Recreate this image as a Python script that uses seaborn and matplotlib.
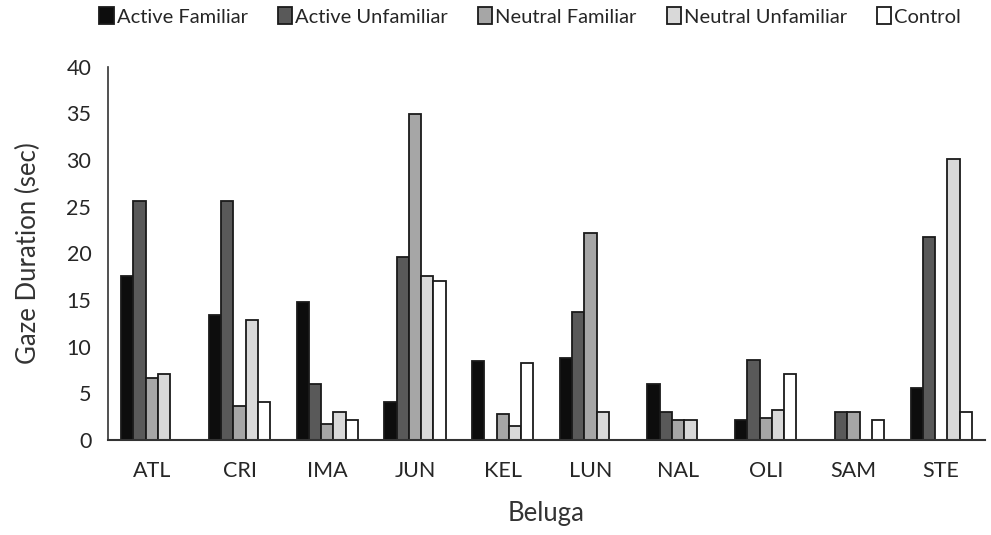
import matplotlib
matplotlib.use('Agg')
import matplotlib.pyplot as plt
import pandas as pd
import seaborn as sns

belugas = ['ATL', 'CRI', 'IMA', 'JUN', 'KEL', 'LUN', 'NAL', 'OLI', 'SAM', 'STE']
conditions = ['Active Familiar', 'Active Unfamiliar', 'Neutral Familiar',
              'Neutral Unfamiliar', 'Control']

active_familiar = [17.6, 13.4, 14.8, 4.1, 8.4, 8.8, 6.0, 2.1, 0, 5.6]
active_unfamiliar = [25.6, 25.6, 6.0, 19.6, 0, 13.7, 3.0, 8.6, 3.0, 21.7]
neutral_familiar = [6.6, 3.6, 1.7, 34.9, 2.8, 22.2, 2.1, 2.3, 3.0, 0]
neutral_unfamiliar = [7.1, 12.9, 3.0, 17.6, 1.5, 3.0, 2.1, 3.2, 0, 30.1]
control = [0, 4.1, 2.1, 17.0, 8.2, 0, 0, 7.1, 2.1, 3.0]

colors = ['#0d0d0d', '#595959', '#a6a6a6', '#d9d9d9', '#ffffff']


def main():
    sns.set_style('white')
    plt.rcParams['font.family'] = ['Lato', 'DejaVu Sans']

    series = [active_familiar, active_unfamiliar, neutral_familiar,
              neutral_unfamiliar, control]
    rows = []
    for cond, vals in zip(conditions, series):
        for b, v in zip(belugas, vals):
            rows.append({'Beluga': b, 'Condition': cond, 'Gaze': v})
    df = pd.DataFrame(rows)

    fig = plt.figure(figsize=(9.91, 5.35), dpi=100)
    ax = fig.add_axes([0.109, 0.178, 0.885, 0.697])
    sns.barplot(data=df, x='Beluga', y='Gaze', hue='Condition',
                hue_order=conditions, order=belugas, palette=colors,
                width=0.7, edgecolor='#1a1a1a', linewidth=1.3,
                errorbar=None, ax=ax)

    ax.set_ylim(0, 40)
    ax.set_xlim(-0.5, len(belugas) - 0.5)
    ax.set_yticks(range(0, 41, 5))
    ax.tick_params(axis='both', length=0, labelsize=15.5, colors='#262626')
    ax.tick_params(axis='y', pad=12)
    ax.tick_params(axis='x', pad=15)
    for side in ['top', 'right']:
        ax.spines[side].set_visible(False)
    ax.spines['left'].set_color('#333333')
    ax.spines['bottom'].set_color('#333333')
    ax.spines['left'].set_linewidth(1.2)
    ax.spines['bottom'].set_linewidth(1.5)
    ax.set_xlabel('Beluga', fontsize=18.5, color='#333333', labelpad=15)
    ax.set_ylabel('Gaze Duration (sec)', fontsize=18.5, color='#333333', labelpad=18)

    handles, labels = ax.get_legend_handles_labels()
    ax.get_legend().remove()
    fig.legend(handles, labels, loc='upper center', bbox_to_anchor=(0.535, 1.02),
               ncol=5, frameon=False, fontsize=14.5, handlelength=0.7,
               handleheight=0.9, handletextpad=0.15, columnspacing=1.5)

    fig.savefig('out.png', dpi=100)


if __name__ == '__main__':
    main()
